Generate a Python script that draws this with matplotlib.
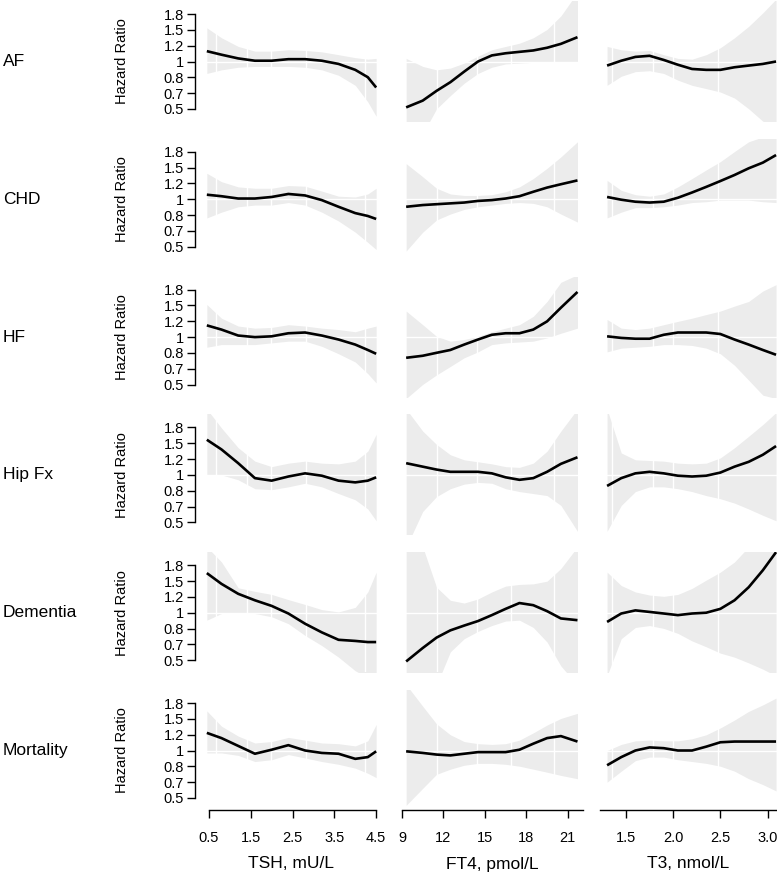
import numpy as np
import matplotlib
matplotlib.use('agg')
import matplotlib.pyplot as plt

plt.rcParams['font.family'] = ['Liberation Sans', 'DejaVu Sans']

outcomes = ['AF', 'CHD', 'HF', 'Hip Fx', 'Dementia', 'Mortality']
x_titles = ['TSH, mU/L', 'FT4, pmol/L', 'T3, nmol/L']

# hazard ratio ticks (placed at log HR -0.6 .. 0.6)
hr_tick_pos = [-0.6, -0.4, -0.2, 0.0, 0.2, 0.4, 0.6]
hr_tick_lab = ['0.5', '0.7', '0.8', '1', '1.2', '1.5', '1.8']

tsh_ticks = [0.5, 1.5, 2.5, 3.5, 4.5]
ft4_ticks = [9, 12, 15, 18, 21]
t3_ticks = [1.5, 2.0, 2.5, 3.0]
t3_tick_lab = ['1.5', '2.0', '2.5', '3.0']

# x positions of the white lines inside the bands
tsh_knots = [0.67, 1.41, 1.98, 2.82, 4.24]
ft4_knots = [11.5, 14.4, 16.9, 20.0]
t3_knots = [1.35, 1.79, 2.0, 2.48]

# ---- TSH ----
tsh_x = [0.45, 0.8, 1.2, 1.6, 2.0, 2.4, 2.8, 3.2, 3.6, 4.0, 4.3, 4.5]
tsh_hr = [
    [1.14, 1.09, 1.04, 1.01, 1.01, 1.03, 1.03, 1.01, 0.97, 0.90, 0.82, 0.72],
    [1.06, 1.04, 1.01, 1.01, 1.03, 1.07, 1.05, 0.99, 0.91, 0.84, 0.81, 0.78],
    [1.16, 1.10, 1.02, 1.00, 1.01, 1.05, 1.06, 1.02, 0.97, 0.91, 0.85, 0.81],
    [1.56, 1.38, 1.16, 0.96, 0.93, 0.98, 1.02, 0.99, 0.93, 0.91, 0.93, 0.97],
    [1.65, 1.44, 1.27, 1.17, 1.09, 0.99, 0.87, 0.78, 0.71, 0.70, 0.69, 0.69],
    [1.25, 1.17, 1.06, 0.96, 1.01, 1.07, 1.00, 0.97, 0.96, 0.90, 0.92, 0.99],
]
tsh_lo = [
    [0.86, 0.90, 0.93, 0.94, 0.94, 0.94, 0.93, 0.90, 0.84, 0.74, 0.60, 0.50],
    [0.79, 0.85, 0.91, 0.93, 0.93, 0.96, 0.93, 0.85, 0.76, 0.66, 0.58, 0.53],
    [0.88, 0.91, 0.91, 0.91, 0.93, 0.95, 0.95, 0.89, 0.81, 0.73, 0.63, 0.56],
    [1.00, 1.00, 0.94, 0.84, 0.83, 0.86, 0.90, 0.86, 0.79, 0.73, 0.65, 0.56],
    [0.91, 0.99, 1.00, 0.99, 0.95, 0.87, 0.75, 0.66, 0.57, 0.48, 0.44, 0.44],
    [0.97, 0.97, 0.94, 0.87, 0.89, 0.95, 0.91, 0.87, 0.84, 0.80, 0.75, 0.71],
]
tsh_hi = [
    [1.53, 1.35, 1.21, 1.14, 1.14, 1.16, 1.15, 1.13, 1.09, 1.05, 1.03, 1.04],
    [1.39, 1.25, 1.17, 1.15, 1.15, 1.19, 1.18, 1.11, 1.04, 1.03, 1.07, 1.15],
    [1.51, 1.27, 1.15, 1.12, 1.13, 1.17, 1.15, 1.12, 1.10, 1.07, 1.12, 1.15],
    [2.30, 1.81, 1.41, 1.19, 1.11, 1.16, 1.19, 1.16, 1.15, 1.19, 1.35, 1.67],
    [2.30, 1.90, 1.37, 1.31, 1.26, 1.18, 1.11, 1.04, 1.01, 1.07, 1.30, 1.67],
    [1.65, 1.36, 1.20, 1.10, 1.12, 1.18, 1.14, 1.10, 1.09, 1.06, 1.13, 1.39],
]

# ---- FT4 ----
ft4_x = [9.3, 10.5, 11.5, 12.5, 13.5, 14.5, 15.5, 16.5, 17.5, 18.5, 19.5, 20.5, 21.7]
ft4_hr = [
    [0.56, 0.61, 0.69, 0.77, 0.88, 1.00, 1.08, 1.11, 1.13, 1.15, 1.19, 1.25, 1.36],
    [0.91, 0.93, 0.94, 0.95, 0.96, 0.98, 0.99, 1.01, 1.04, 1.10, 1.16, 1.21, 1.27],
    [0.77, 0.79, 0.82, 0.85, 0.91, 0.97, 1.03, 1.05, 1.05, 1.10, 1.22, 1.45, 1.77],
    [1.16, 1.11, 1.07, 1.04, 1.04, 1.04, 1.02, 0.97, 0.94, 0.96, 1.04, 1.15, 1.25],
    [0.54, 0.64, 0.73, 0.80, 0.85, 0.90, 0.97, 1.05, 1.13, 1.10, 1.02, 0.93, 0.91],
    [0.99, 0.97, 0.95, 0.94, 0.96, 0.98, 0.98, 0.98, 1.01, 1.09, 1.17, 1.20, 1.12],
]
ft4_lo = [
    [0.40, 0.40, 0.55, 0.65, 0.76, 0.86, 0.93, 0.97, 0.98, 0.99, 0.99, 0.99, 1.00],
    [0.52, 0.66, 0.77, 0.83, 0.88, 0.91, 0.93, 0.95, 0.96, 0.95, 0.91, 0.83, 0.75],
    [0.46, 0.55, 0.62, 0.69, 0.77, 0.83, 0.91, 0.93, 0.94, 0.95, 0.99, 1.05, 1.12],
    [0.40, 0.63, 0.76, 0.84, 0.89, 0.91, 0.90, 0.84, 0.81, 0.79, 0.77, 0.68, 0.49],
    [0.40, 0.40, 0.40, 0.61, 0.72, 0.79, 0.85, 0.90, 0.91, 0.83, 0.69, 0.51, 0.40],
    [0.50, 0.62, 0.74, 0.79, 0.83, 0.85, 0.85, 0.84, 0.82, 0.79, 0.76, 0.73, 0.70],
]
ft4_hi = [
    [1.04, 0.94, 0.90, 0.92, 0.98, 1.07, 1.16, 1.21, 1.26, 1.35, 1.50, 1.78, 2.40],
    [1.57, 1.33, 1.15, 1.07, 1.05, 1.05, 1.06, 1.10, 1.17, 1.30, 1.48, 1.71, 2.07],
    [1.39, 1.17, 1.01, 0.95, 0.97, 1.01, 1.07, 1.12, 1.17, 1.30, 1.57, 2.00, 2.20],
    [2.30, 1.74, 1.47, 1.29, 1.21, 1.18, 1.15, 1.11, 1.10, 1.16, 1.35, 1.74, 2.30],
    [2.30, 2.30, 1.38, 1.17, 1.13, 1.19, 1.30, 1.40, 1.43, 1.44, 1.49, 1.75, 2.30],
    [2.30, 1.75, 1.40, 1.22, 1.12, 1.09, 1.08, 1.09, 1.14, 1.25, 1.38, 1.50, 1.60],
]

# ---- T3 ----
t3_x = [1.30, 1.45, 1.6, 1.75, 1.9, 2.05, 2.2, 2.35, 2.5, 2.65, 2.8, 2.95, 3.09]
t3_hr = [
    [0.95, 1.01, 1.06, 1.075, 1.02, 0.96, 0.91, 0.90, 0.90, 0.93, 0.95, 0.97, 1.00],
    [1.03, 0.995, 0.97, 0.96, 0.97, 1.02, 1.09, 1.17, 1.26, 1.36, 1.48, 1.59, 1.75],
    [1.01, 0.99, 0.98, 0.98, 1.03, 1.06, 1.06, 1.06, 1.04, 0.97, 0.91, 0.85, 0.80],
    [0.87, 0.96, 1.02, 1.04, 1.02, 0.99, 0.98, 0.99, 1.03, 1.11, 1.18, 1.29, 1.44],
    [0.89, 0.99, 1.03, 1.01, 0.99, 0.97, 0.99, 1.00, 1.05, 1.17, 1.38, 1.71, 2.15],
    [0.83, 0.92, 1.00, 1.04, 1.03, 1.00, 1.00, 1.05, 1.11, 1.12, 1.12, 1.12, 1.12],
]
t3_lo = [
    [0.74, 0.83, 0.88, 0.89, 0.86, 0.79, 0.74, 0.71, 0.68, 0.63, 0.55, 0.47, 0.45],
    [0.79, 0.85, 0.90, 0.90, 0.91, 0.93, 0.96, 0.97, 0.99, 0.99, 0.99, 0.97, 0.96],
    [0.83, 0.87, 0.88, 0.89, 0.91, 0.91, 0.90, 0.87, 0.81, 0.70, 0.58, 0.48, 0.46],
    [0.49, 0.68, 0.81, 0.86, 0.86, 0.84, 0.81, 0.77, 0.74, 0.70, 0.65, 0.60, 0.56],
    [0.45, 0.72, 0.83, 0.85, 0.82, 0.77, 0.70, 0.65, 0.60, 0.57, 0.53, 0.49, 0.45],
    [0.67, 0.77, 0.88, 0.92, 0.92, 0.89, 0.87, 0.85, 0.82, 0.77, 0.70, 0.65, 0.60],
]
t3_hi = [
    [1.21, 1.16, 1.14, 1.15, 1.09, 1.04, 1.03, 1.09, 1.19, 1.35, 1.56, 1.85, 2.20],
    [1.27, 1.12, 1.06, 1.04, 1.07, 1.17, 1.30, 1.45, 1.61, 1.83, 2.07, 2.20, 2.20],
    [1.25, 1.12, 1.10, 1.12, 1.17, 1.22, 1.27, 1.33, 1.39, 1.48, 1.57, 1.79, 1.94],
    [2.30, 1.32, 1.21, 1.20, 1.19, 1.16, 1.15, 1.16, 1.24, 1.41, 1.63, 1.89, 2.20],
    [1.67, 1.41, 1.30, 1.25, 1.23, 1.26, 1.36, 1.51, 1.67, 1.90, 2.30, 2.30, 2.30],
    [1.00, 1.08, 1.13, 1.14, 1.13, 1.13, 1.16, 1.22, 1.33, 1.47, 1.64, 1.78, 1.94],
]

columns = [
    dict(x=tsh_x, hr=tsh_hr, lo=tsh_lo, hi=tsh_hi, knots=tsh_knots, ticks=tsh_ticks,
         labels=[str(t) for t in tsh_ticks], xlim=(0.43, 4.52), px=(206, 377), spine=(0.5, 4.5)),
    dict(x=ft4_x, hr=ft4_hr, lo=ft4_lo, hi=ft4_hi, knots=ft4_knots, ticks=ft4_ticks,
         labels=[str(t) for t in ft4_ticks], xlim=(9.0, 22.1), px=(402, 583), spine=(9.0, 22.1)),
    dict(x=t3_x, hr=t3_hr, lo=t3_lo, hi=t3_hi, knots=t3_knots, ticks=t3_ticks,
         labels=t3_tick_lab, xlim=(1.225, 3.10), px=(600, 777), spine=(1.225, 3.10)),
]

W, H = 777, 877
fig = plt.figure(figsize=(W / 100, H / 100), dpi=100)

band_col = '#ececec'
ylo, yhi = -0.752, 0.765
row_h = 120
row_step = 137.8

for i, name in enumerate(outcomes):
    top = 1 + row_step * i
    for j, c in enumerate(columns):
        l, r = c['px']
        ax = fig.add_axes([l / W, 1 - (top + row_h) / H, (r - l) / W, row_h / H])
        x = np.array(c['x'])
        ax.fill_between(x, np.log(c['lo'][i]), np.log(c['hi'][i]),
                        color=band_col, lw=0, zorder=1)
        ax.axhline(0, color='white', lw=1, zorder=1.5)
        for k in c['knots']:
            ax.axvline(k, color='white', lw=1, zorder=1.5)
        ax.plot(x, np.log(c['hr'][i]), color='black', lw=1.9, zorder=3,
                solid_capstyle='butt')
        ax.set_xlim(*c['xlim'])
        ax.set_ylim(ylo, yhi)
        ax.patch.set_visible(False)
        for s in ['top', 'right']:
            ax.spines[s].set_visible(False)

        if j == 0:
            ax.spines['left'].set_bounds(-0.6, 0.6)
            ax.spines['left'].set_position(('outward', 8))
            ax.spines['left'].set_linewidth(1.0)
            ax.set_yticks(hr_tick_pos)
            ax.set_yticklabels(hr_tick_lab)
            ax.tick_params(axis='y', length=6, width=1.0, pad=2, labelsize=10.5)
        else:
            ax.spines['left'].set_visible(False)
            ax.set_yticks([])

        if i == len(outcomes) - 1:
            ax.spines['bottom'].set_bounds(*c['spine'])
            ax.spines['bottom'].set_linewidth(1.0)
            ax.set_xticks(c['ticks'])
            ax.set_xticklabels(c['labels'])
            ax.tick_params(axis='x', length=6, width=1.0, pad=9, labelsize=10.5)
            fig.text((l + r) / 2 / W, 1 - 864 / H, x_titles[j], ha='center',
                     va='center', fontsize=12.5)
        else:
            ax.spines['bottom'].set_visible(False)
            ax.set_xticks([])

    y0 = top + 0.765 * 79
    fig.text(3 / W, 1 - y0 / H, name, ha='left', va='center', fontsize=12.5)
    fig.text(122 / W, 1 - y0 / H, 'Hazard Ratio', ha='center', va='center',
             rotation=90, fontsize=10.5)

fig.savefig('out.png', dpi=100)
